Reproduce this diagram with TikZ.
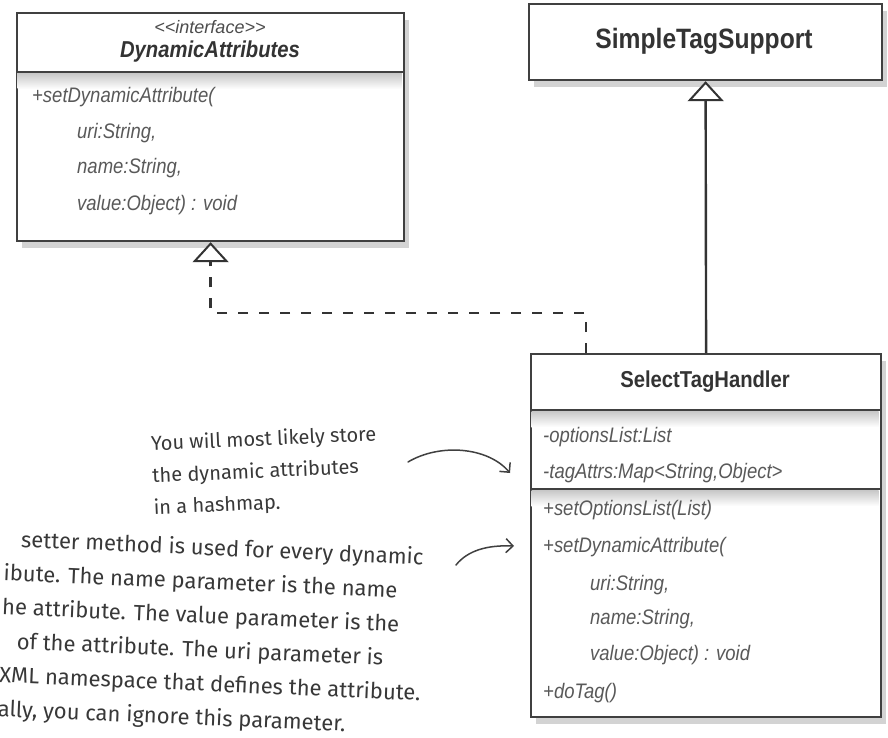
\documentclass[tikz,border=0pt]{standalone}
\usepackage{fontspec}
\setmainfont{Liberation Sans}
\newfontfamily\umlfont[FakeStretch=0.88]{Liberation Sans}
\newfontfamily\handfont{Fira Sans}
\usetikzlibrary{arrows.meta}
\usetikzlibrary{shadows}

\tikzset{
  classbox/.style={draw=black!75,line width=2.2pt,fill=white,inner sep=0pt,anchor=north west,
                   drop shadow={shadow xshift=5pt,shadow yshift=-7pt,opacity=0.35}},
  divider/.style={draw=black!75,line width=2pt},
  classname/.style={text=black!80,font=\umlfont\bfseries\fontsize{23}{27}\selectfont},
  stereo/.style={text=black!70,font=\itshape\fontsize{18}{22}\selectfont},
  member/.style={text=black!65,anchor=west,inner sep=0pt,font=\umlfont\itshape\fontsize{21}{25}\selectfont},
  hand/.style={text=black!78,align=left,font=\handfont},
  handarrow/.style={draw=black!75,line width=1.5pt,line cap=round,-{Straight Barb[length=7pt,width=14pt]}},
  realize/.style={draw=black!80,line width=2.6pt,dash pattern=on 10pt off 11pt,
                  -{Triangle[length=20pt,width=36pt,fill=white,line width=2pt]}},
  extends/.style={draw=black!80,line width=2.4pt,
                  -{Triangle[length=20pt,width=36pt,fill=white,line width=2pt]}}
}

\begin{document}
\begin{tikzpicture}[x=1pt,y=-1pt]
\useasboundingbox (0,0) rectangle (888,738);
\begin{scope}[every node/.style={classbox}]
    \node (dyn) at (16,12) [minimum width=387pt,minimum height=228pt] {};
    \node (simple) at (528,3) [minimum width=353pt,minimum height=76pt] {};
    \node (sel) at (530,353) [minimum width=350pt,minimum height=363pt] {};
\end{scope}
% compartments
\shade[top color=black!22,bottom color=white] (17.5,73) rectangle (401.5,89);
\shade[top color=black!22,bottom color=white] (531.5,411) rectangle (878.5,427);
\shade[top color=black!22,bottom color=white] (531.5,490) rectangle (878.5,506);
\draw[divider] (dyn.west |- 0,72) -- (dyn.east |- 0,72);
\draw[divider] (sel.west |- 0,410) -- (sel.east |- 0,410);
\draw[divider] (sel.west |- 0,489) -- (sel.east |- 0,489);
% class texts
\node[stereo] (dynstereo) at (210,27) {<\kern0pt<interface>\kern0pt>};
\node[classname,font=\umlfont\bfseries\itshape\fontsize{23}{27}\selectfont] (dynname) at (210,52) {DynamicAttributes};
\node[member] (dynop) at (32,97) {+setDynamicAttribute(};
\node[member] (dynuri) at (77,133) {uri:String,};
\node[member] (dynnm) at (77,168) {name:String,};
\node[member] (dynval) at (77,205) {value:Object) : void};
\node[classname,font=\umlfont\bfseries\fontsize{28}{32}\selectfont] (simplename) at (704,41) {SimpleTagSupport};
\node[classname] (selname) at (705,382) {SelectTagHandler};
\node[member] (selopts) at (543,437) {-optionsList:List};
\node[member] (selattrs) at (543,473) {-tagAttrs:Map<String,Object>};
\node[member] (selsetopts) at (543,510) {+setOptionsList(List)};
\node[member] (selsetdyn) at (543,547) {+setDynamicAttribute(};
\node[member] (seluri) at (590,585) {uri:String,};
\node[member] (selnm) at (590,619) {name:String,};
\node[member] (selval) at (590,655) {value:Object) : void};
\node[member] (seldotag) at (543,693) {+doTag()};
% relations
\coordinate (implbend) at (586,313);
\draw[realize] (sel.north -| implbend) -- (implbend) -| (dyn.south);
\draw[extends] (sel.north) -- (simple.south);
% notes
\node[hand,rotate=2.5,font=\handfont\fontsize{20}{32}\selectfont] (hashnote) at (265,472)
    {You will most likely store\\the dynamic attributes\\in a hashmap.};
\node[hand,rotate=-2.5,anchor=west,font=\handfont\fontsize{22}{34}\selectfont] (setternote) at (-2,625)
    {\hspace*{16pt}setter method is used for every dynamic\\
     ibute. The name parameter is the name\\
     he attribute. The value parameter is the\\
     \hspace*{16pt}of the attribute. The uri parameter is\\
     XML namespace that defines the attribute.\\
     ally, you can ignore this parameter.};
\coordinate (hashtail) at (408,462);
\coordinate (hashtip) at (510,473);
\coordinate (settertail) at (456,565);
\coordinate (settertip) at (514,546);
\draw[handarrow] (hashtail) .. controls (440,443) and (488,447) .. (hashtip);
\draw[handarrow] (settertail) .. controls (468,550) and (488,545) .. (settertip);
\end{tikzpicture}
\end{document}
